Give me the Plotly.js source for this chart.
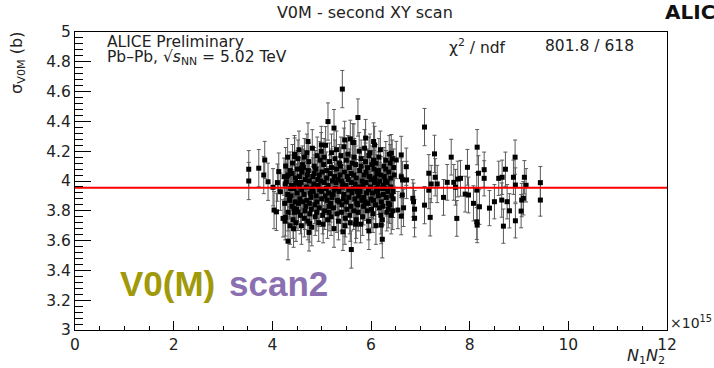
<!DOCTYPE html>
<html>
<head>
<meta charset="utf-8">
<script src="https://cdn.plot.ly/plotly-3.0.1.min.js"></script>
<style>html,body{margin:0;padding:0;background:#fff;}#chart{width:714px;height:368px;}</style>
</head>
<body>
<div id="chart"></div>
<script>
// ---- data ----
// Main cluster (and its edges): N1N2 in units of 1e15, sigma_V0M in b
const clusterN1N2 = [
  3.522,3.522,3.725,3.846,3.826,3.913,4.014,4.035,4.083,4.103,4.130,4.164,4.217,4.265,4.237,4.285,4.318,4.318,4.352,4.453,4.474,4.440,4.520,4.589,4.723,4.757,4.743,4.993,5.128,5.250,5.419,5.735,5.466,5.581,5.891,6.053,5.601,6.229,5.957,5.431,5.688,6.512,6.613,6.715,6.721,6.634,6.660,6.613,6.848,6.883,6.862,6.613,6.640,6.883,6.207,6.545,5.654,6.073,6.411,
  4.26,4.27,4.25,4.26,
  4.31,4.30,4.32,4.31,
  4.36,4.35,4.37,4.36,
  4.40,4.41,4.39,4.42,4.40,4.38,
  4.45,4.46,4.44,4.47,4.45,4.43,
  4.50,4.51,4.49,4.52,4.50,4.48,
  4.55,4.56,4.54,4.57,4.55,4.53,
  4.60,4.61,4.59,4.62,4.60,4.58,
  4.65,4.66,4.64,4.67,4.65,4.63,
  4.70,4.71,4.69,4.72,4.70,4.68,
  4.75,4.76,4.74,4.77,4.75,4.73,
  4.80,4.81,4.79,4.82,4.80,4.78,
  4.85,4.86,4.84,4.87,4.85,4.83,
  4.90,4.91,4.89,4.92,4.90,4.88,
  4.95,4.96,4.94,4.97,4.95,4.93,
  5.00,5.01,4.99,5.02,5.00,4.98,
  5.05,5.06,5.04,5.07,5.05,5.03,
  5.10,5.11,5.09,5.12,5.10,5.08,
  5.15,5.16,5.14,5.17,5.15,5.13,
  5.20,5.21,5.19,5.22,5.20,5.18,
  5.25,5.26,5.24,5.27,5.25,5.23,
  5.30,5.31,5.29,5.32,5.30,5.28,
  5.35,5.36,5.34,5.37,5.35,5.33,
  5.40,5.41,5.39,5.42,5.40,5.38,
  5.45,5.46,5.44,5.47,5.45,5.43,
  5.50,5.51,5.49,5.52,5.50,5.48,
  5.55,5.56,5.54,5.57,5.55,5.53,
  5.60,5.61,5.59,5.62,5.60,5.58,
  5.65,5.66,5.64,5.67,5.65,5.63,
  5.70,5.71,5.69,5.72,5.70,5.68,
  5.75,5.76,5.74,5.77,5.75,5.73,
  5.80,5.81,5.79,5.82,5.80,5.78,
  5.85,5.86,5.84,5.87,5.85,5.83,
  5.90,5.91,5.89,5.92,5.90,5.88,
  5.95,5.96,5.94,5.97,5.95,5.93,
  6.00,6.01,5.99,6.02,6.00,5.98,
  6.05,6.06,6.04,6.07,6.05,6.03,
  6.10,6.11,6.09,6.12,6.10,6.08,
  6.15,6.16,6.14,6.17,6.15,6.13,
  6.20,6.21,6.19,6.22,6.20,6.18,
  6.25,6.26,6.24,6.27,6.25,6.23,
  6.30,6.31,6.29,6.32,6.30,6.28,
  6.35,6.36,6.34,6.37,6.35,6.33,
  6.40,6.41,6.39,6.42,6.40,6.38,
  6.45,6.46,6.44,6.47,6.45,6.43
];
const clusterSigma = [
  4.079,4.000,4.086,4.141,4.040,3.995,3.958,3.805,3.793,3.989,4.063,3.928,3.749,3.756,4.029,3.995,4.040,3.596,3.884,4.164,3.985,3.816,3.793,4.086,4.265,3.715,3.655,4.242,4.399,4.355,4.617,4.426,4.276,4.283,4.288,4.265,3.540,3.609,3.665,3.659,3.710,4.141,4.175,4.096,4.007,3.906,3.820,3.764,3.884,3.811,3.861,4.029,4.007,3.750,3.704,3.805,4.258,4.242,4.187,
  3.98,4.10,3.85,3.73,
  3.91,4.03,3.79,4.16,
  4.07,3.87,3.95,3.70,
  3.83,4.12,3.97,3.74,4.05,3.90,
  4.18,3.86,3.95,4.02,3.79,3.68,
  3.92,4.08,3.81,4.15,3.99,3.72,
  4.03,3.88,4.21,3.77,3.96,3.85,
  3.94,4.11,3.70,3.86,4.06,3.99,
  4.16,3.80,3.91,4.01,3.75,4.09,
  3.87,4.04,3.96,3.73,4.19,3.83,
  4.00,3.78,4.13,3.92,3.85,4.07,
  3.95,4.22,3.81,4.03,3.69,3.89,
  4.10,3.84,3.98,3.76,4.05,3.93,
  3.79,4.17,3.90,4.01,3.86,4.08,
  4.04,3.94,3.72,4.14,3.82,3.97,
  3.88,4.06,4.20,3.77,3.93,4.00,
  3.99,3.80,4.11,3.90,4.16,3.71,
  4.07,3.87,3.95,3.74,4.02,4.24,
  3.83,4.13,3.92,4.05,3.79,3.97,
  4.19,3.89,3.76,4.00,4.09,3.85,
  3.94,4.03,3.82,4.15,3.68,3.91,
  4.08,3.78,3.99,3.87,4.21,3.95,
  3.86,4.12,3.73,4.04,3.93,4.01,
  4.00,3.84,4.17,3.96,3.79,4.10,
  3.91,4.06,3.88,3.70,4.23,3.98,
  4.14,3.81,3.97,4.03,3.86,3.75,
  3.89,4.09,4.01,3.77,3.94,4.18,
  4.05,3.92,3.83,4.12,3.99,3.72,
  3.80,4.16,3.95,3.88,4.04,4.26,
  4.02,3.85,4.11,3.93,3.74,3.98,
  3.96,4.20,3.79,4.07,3.90,3.84,
  4.10,3.87,3.71,4.00,4.15,3.93,
  3.83,4.04,3.97,4.22,3.89,3.76,
  4.06,3.92,4.13,3.80,3.99,3.86,
  3.94,4.17,3.85,4.03,3.73,4.09,
  4.01,3.81,3.96,4.11,3.88,4.19,
  3.87,4.08,3.78,3.99,4.14,3.92,
  4.12,3.95,3.84,4.05,3.70,4.02,
  3.90,4.16,3.98,3.82,4.07,3.93,
  4.04,3.86,4.21,3.95,3.77,4.00,
  3.97,4.10,3.83,4.03,3.91,3.74,
  4.14,3.89,4.00,3.79,4.08,3.95,
  3.85,4.06,3.93,4.18,3.81,3.99,
  4.02,3.77,4.12,3.90,3.96,3.84,
  3.93,4.09,3.80,4.04,3.88,4.15
];
const clusterErr = 0.125;

// Sparse tail at large N1N2
const tailN1N2 = [7.085,7.287,7.302,7.172,7.172,7.085,7.200,7.221,7.342,7.470,7.545,7.626,7.678,7.713,7.759,7.814,7.739,7.909,7.976,7.955,8.152,8.178,8.144,8.077,8.198,8.144,8.152,8.294,8.294,8.401,8.502,8.589,8.658,8.650,8.684,8.725,8.759,8.806,8.921,8.887,8.927,8.927,9.043,9.055,9.089,9.109,9.144,9.433,9.433];
const tailSigma = [4.362,4.182,4.025,4.052,3.939,3.838,3.756,3.980,3.980,3.890,3.991,4.160,3.991,3.958,4.013,4.018,3.749,3.912,3.906,4.092,4.227,4.052,3.939,3.850,3.827,3.726,3.704,4.076,4.018,3.818,3.861,4.018,4.025,3.872,3.697,4.079,3.861,3.800,4.160,4.025,3.973,3.733,3.798,3.872,3.884,4.025,3.971,3.989,3.872];
const tailErr = [0.125,0.125,0.125,0.125,0.125,0.125,0.125,0.125,0.125,0.12,0.12,0.12,0.12,0.12,0.12,0.12,0.12,0.12,0.12,0.12,0.118,0.118,0.118,0.118,0.118,0.118,0.118,0.118,0.118,0.118,0.115,0.115,0.115,0.115,0.115,0.115,0.115,0.115,0.115,0.115,0.115,0.115,0.112,0.112,0.112,0.112,0.112,0.108,0.108];

// Constant fit
const fitRange = [0, 12];
const fitValue = 3.955;
const chi2Text = "801.8 / 618";

// ---- plot ----
const markerStyle = {symbol: 'square', size: 5, color: '#000'};
const errStyle = {color: '#5a5a5a', thickness: 1, width: 2};

const traces = [
  {
    type: 'scatter', mode: 'markers', x: clusterN1N2, y: clusterSigma,
    error_y: Object.assign({type: 'constant', value: clusterErr, visible: true}, errStyle),
    marker: markerStyle, hoverinfo: 'skip'
  },
  {
    type: 'scatter', mode: 'markers', x: tailN1N2, y: tailSigma,
    error_y: Object.assign({type: 'data', array: tailErr, visible: true}, errStyle),
    marker: markerStyle, hoverinfo: 'skip'
  },
  {
    type: 'scatter', mode: 'lines', x: fitRange, y: [fitValue, fitValue],
    line: {color: '#ff0000', width: 2}, hoverinfo: 'skip'
  }
];

const F = 'DejaVu Sans, Liberation Sans, Arial, sans-serif';
const FB = 'Liberation Sans, Arial, sans-serif';
const layout = {
  width: 714, height: 368,
  margin: {l: 75, r: 47, t: 32, b: 38},
  paper_bgcolor: '#fff', plot_bgcolor: '#fff',
  showlegend: false,
  font: {family: F, color: '#222'},
  title: {text: 'V0M - second XY scan', font: {family: F, size: 16, color: '#222'},
          x: 0.511, xanchor: 'center', xref: 'container', y: 0.965, yanchor: 'middle', yref: 'container'},
  xaxis: {
    range: [0, 12], tick0: 0, dtick: 2, ticks: 'inside', ticklen: 9, tickwidth: 1, tickcolor: '#000',
    showline: true, linecolor: '#000', linewidth: 1, mirror: true, showgrid: false, zeroline: false,
    tickfont: {family: F, size: 15.5, color: '#222'},
    minor: {dtick: 0.5, ticks: 'inside', ticklen: 4.5, tickcolor: '#000', showgrid: false}
  },
  yaxis: {
    range: [3, 5], tick0: 3, dtick: 0.2, ticks: 'inside', ticklen: 16, tickwidth: 1, tickcolor: '#000',
    showline: true, linecolor: '#000', linewidth: 1, mirror: true, showgrid: false, zeroline: false,
    tickfont: {family: F, size: 15.5, color: '#222'},
    minor: {dtick: 0.04, ticks: 'inside', ticklen: 8, tickcolor: '#000', showgrid: false}
  },
  annotations: [
    {text: 'ALICE Preliminary', xref: 'paper', yref: 'paper', x: 0.0507, y: 0.968, xanchor: 'left', yanchor: 'middle', showarrow: false, font: {family: F, size: 15.5, color: '#222'}},
    {text: 'Pb–Pb, √<i>s</i><sub>NN</sub> = 5.02 TeV', xref: 'paper', yref: 'paper', x: 0.0507, y: 0.914, xanchor: 'left', yanchor: 'middle', showarrow: false, font: {family: F, size: 15.5, color: '#222'}},
    {text: 'χ<sup>2</sup> / ndf', xref: 'paper', yref: 'paper', x: 0.628, y: 0.953, xanchor: 'left', yanchor: 'middle', showarrow: false, font: {family: F, size: 15.5, color: '#222'}},
    {text: chi2Text, xref: 'paper', yref: 'paper', x: 0.948, y: 0.953, xanchor: 'right', yanchor: 'middle', showarrow: false, font: {family: F, size: 15.5, color: '#222'}},
    {text: '<b>ALICE</b>', xref: 'paper', yref: 'paper', x: 0.993, y: 1.066, xanchor: 'left', yanchor: 'middle', showarrow: false, font: {family: F, size: 20, color: '#111'}},
    {text: '<b>V0(M)</b>', xref: 'paper', yref: 'paper', x: 0.0726, y: 0.155, xanchor: 'left', yanchor: 'middle', showarrow: false, font: {family: FB, size: 35, color: '#a0990a'}},
    {text: '<b>scan2</b>', xref: 'paper', yref: 'paper', x: 0.256, y: 0.155, xanchor: 'left', yanchor: 'middle', showarrow: false, font: {family: FB, size: 35, color: '#8a70b0'}},
    {text: '×10<sup>15</sup>', xref: 'paper', yref: 'paper', x: 1.002, y: 0.028, xanchor: 'left', yanchor: 'middle', showarrow: false, font: {family: F, size: 14, color: '#222'}},
    {text: '<i>N</i><sub>1</sub><i>N</i><sub>2</sub>', xref: 'paper', yref: 'paper', x: 1.0, y: -0.088, xanchor: 'right', yanchor: 'middle', showarrow: false, font: {family: F, size: 16, color: '#222'}},
    {text: 'σ<sub>V0M</sub> (b)', xref: 'paper', yref: 'paper', x: -0.0963, y: 1.007, xanchor: 'center', yanchor: 'top', textangle: -90, showarrow: false, font: {family: F, size: 16, color: '#222'}}
  ]
};

Plotly.newPlot('chart', traces, layout, {staticPlot: true, displayModeBar: false});
</script>
</body>
</html>
